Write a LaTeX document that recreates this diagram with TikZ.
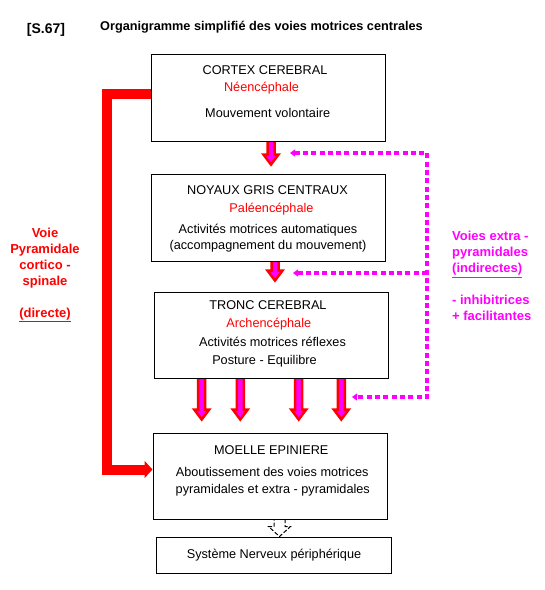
\documentclass[tikz,border=0pt]{standalone}
\usepackage{fontspec}
\setmainfont{Liberation Sans}
\usetikzlibrary{arrows.meta,calc}
\definecolor{pyrared}{RGB}{255,0,0}
\definecolor{extramag}{RGB}{255,0,255}
\pgfdeclarelayer{back}
\pgfsetlayers{back,main}

\tikzset{
  box/.style={draw, fill=white, line width=1pt, minimum width=234pt, minimum height=87pt, inner sep=0pt},
  txt/.style={font=\fontsize{12.7}{15}\selectfont, inner sep=0pt, text height=9.2pt, text depth=2.7pt},
  redtxt/.style={txt, text=pyrared},
  side/.style={font=\fontsize{13}{16}\selectfont\bfseries, inner sep=0pt},
  blockto/.style n args={4}{to path={let \p1=(\tikztostart), \p2=(\tikztotarget) in
    (\x1-#1,\y1+3pt) -- (\x1-#1,\y2+#4+#3) -- (\x1-#2,\y2+#4+#3) -- (\x1,\y2+#4)
    -- (\x1+#2,\y2+#4+#3) -- (\x1+#1,\y2+#4+#3) -- (\x1+#1,\y1+3pt) -- cycle}},
  fat/.style={blockto={3.5pt}{7.5pt}{10pt}{#1}, draw=pyrared, fill=extramag, line width=2.5pt},
  outarrow/.style={blockto={5.5pt}{11pt}{10pt}{0pt}, draw=black, fill=white, line width=1pt, dash pattern=on 4pt off 2pt},
  pyra/.style={pyrared, line width=10pt, -{Triangle[length=8pt,width=17pt]}},
  extra/.style={extramag, line width=3.3pt, dash pattern=on 5pt off 3.3pt},
  extratip/.tip={Triangle[length=5pt,width=7pt]}
}

\begin{document}
\begin{tikzpicture}[x=1pt,y=-1pt]
\useasboundingbox (0,0) rectangle (545,590);

% titre
\node[anchor=west, inner sep=0pt, font=\fontsize{14}{16}\selectfont\bfseries] (ref) at (26.7,30) {[S.67]};
\node[anchor=west, inner sep=0pt, font=\fontsize{12.7}{15}\selectfont\bfseries] (titre) at (100,27.5) {Organigramme simplifié des voies motrices centrales};

% boites
\node[box] (cortex) at (268,97.5) {};
\node[txt] (cortexA) at (265,71.5) {CORTEX CEREBRAL};
\node[redtxt] (cortexB) at (261.5,88.5) {Néencéphale};
\node[txt] (cortexC) at (267.7,114) {Mouvement volontaire};

\node[box] (noyaux) at (268,217.5) {};
\node[txt] (noyauxA) at (267.5,191) {NOYAUX GRIS CENTRAUX};
\node[redtxt] (noyauxB) at (271.5,209) {Paléencéphale};
\node[txt] (noyauxC) at (268,230) {Activités motrices automatiques};
\node[txt] (noyauxD) at (268,246.5) {(accompagnement du mouvement)};

\node[box, minimum height=86pt] (tronc) at (271,335) {};
\node[txt] (troncA) at (268,306) {TRONC CEREBRAL};
\node[redtxt] (troncB) at (268.8,324.3) {Archencéphale};
\node[txt] (troncC) at (272.5,343.3) {Activités motrices réflexes};
\node[txt] (troncD) at (264.5,361.7) {Posture - Equilibre};

\node[box, minimum height=86pt] (moelle) at (270,476) {};
\node[txt] (moelleA) at (271.3,451.5) {MOELLE EPINIERE};
\node[txt] (moelleB) at (272.2,473.3) {Aboutissement des voies motrices};
\node[txt] (moelleC) at (272.8,490) {pyramidales et extra - pyramidales};

\node[box, txt, minimum width=235pt, minimum height=36pt] (snp) at (274,555) {Système Nerveux périphérique};

% fleches entre les boites
\begin{pgfonlayer}{back}
\draw[fat=9pt] ([xshift=3pt]cortex.south) to (noyaux.north);
\draw[fat=11pt] ([xshift=7pt]noyaux.south) to (tronc.north);
\foreach \dx in {-69.3,-30.7,27.7,70.3}
  \draw[fat=13pt] ([xshift=\dx pt]tronc.south) to (moelle.north);
\draw[outarrow] ([xshift=9.5pt]moelle.south) to (snp.north);
\end{pgfonlayer}

% voie pyramidale directe
\draw[pyra] ([yshift=4pt]cortex.west) -- ++(-44,0) |- ([yshift=6.5pt]moelle.west);
\node[side, text=pyrared, align=center, anchor=north] (pyraLbl) at (45,227.5)
  {Voie\\Pyramidale\\cortico -\\spinale\\[16pt]\underline{(directe)}};

% voies extra-pyramidales
\coordinate (m1) at (427,153);
\coordinate (m2) at (427,273);
\coordinate (m3) at (427,397);
\coordinate (e1) at (290,153);
\coordinate (e2) at (293,273);
\coordinate (e3) at (352,397);
\draw[extra, extratip-extratip] (e1) -- (m1) -- (m3) -- (e3);
\draw[extra, -extratip] (m2) -- (e2);
\node[side, text=extramag, align=left, anchor=north west] (extraLbl) at (452,231)
  {Voies extra -\\pyramidales\\\underline{(indirectes)}\\[16pt]- inhibitrices\\+ facilitantes};
\end{tikzpicture}
\end{document}
